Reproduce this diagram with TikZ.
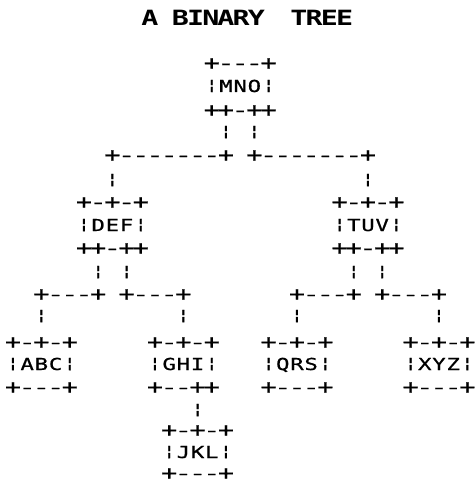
\documentclass[tikz,border=0pt]{standalone}
\usepackage{graphicx}
\usepackage{fontspec}
\newfontfamily\dm[FakeStretch=1.35,FakeBold=0.8]{DejaVu Sans Mono}
\newfontfamily\tf[FakeStretch=1.35]{DejaVu Sans Mono Bold}
\newlength\cw
\setlength\cw{14.2pt}
\makeatletter
\def\gr#1{\gr@a#1\gr@end}
\def\gr@end{\gr@end}
\def\gr@a#1{\ifx#1\gr@end\else\makebox[\cw][c]{\ifx#1.\else\ifx#1¦\raisebox{2.2pt}{\scalebox{1}[0.85]{¦}}\else\ifx#1+\raisebox{-0.6pt}{\scalebox{1.2}{+}}\else\ifx#1-\scalebox{1.3}[1]{-}\else#1\fi\fi\fi\fi}\expandafter\gr@a\fi}
\makeatother
\newcommand\asc[4]{\node[asc] (#3) at ({13+14.2*#1-7.1},{#2+6}) {\gr{#4}};}
\tikzset{
  asc/.style={inner sep=0pt, outer sep=0pt, anchor=base west, text=black,
    font=\dm\fontsize{16.5}{16.5}\selectfont},
  ttl/.style={inner sep=0pt, outer sep=0pt, anchor=base west, text=black,
    font=\tf\fontsize{21}{21}\selectfont}
}
\begin{document}
\begin{tikzpicture}[x=1pt,y=-1pt]
\useasboundingbox[fill=white] (0,0) rectangle (475,484);
\node[ttl] (title) at (142.4,25.5) {\setlength\cw{15.2pt}\gr{A.BINARY.}\hspace{12.2pt}\gr{TREE}};
% root
\asc{14}{63}{mnoT}{+---+}
\asc{14}{86}{mnoM}{¦MNO¦}
\asc{14}{110}{mnoB}{++-++}
\asc{15}{132}{mnoS}{¦.¦}
\asc{7}{155}{brA}{+-------+.+-------+}
\asc{7}{180}{defL}{¦}
\asc{25}{180}{tuvL}{¦}
% level 2
\asc{5}{202}{defT}{+-+-+}
\asc{23}{202}{tuvT}{+-+-+}
\asc{5}{225}{defM}{¦DEF¦}
\asc{23}{225}{tuvM}{¦TUV¦}
\asc{5}{248}{defB}{++-++}
\asc{23}{248}{tuvB}{++-++}
\asc{6}{272}{defS}{¦.¦}
\asc{24}{272}{tuvS}{¦.¦}
\asc{2}{294}{brB}{+---+.+---+}
\asc{20}{294}{brC}{+---+.+---+}
\asc{2}{316}{abcL}{¦}
\asc{12}{316}{ghiL}{¦}
\asc{20}{316}{qrsL}{¦}
\asc{30}{316}{xyzL}{¦}
% level 3
\asc{0}{342}{abcT}{+-+-+}
\asc{10}{342}{ghiT}{+-+-+}
\asc{18}{342}{qrsT}{+-+-+}
\asc{28}{342}{xyzT}{+-+-+}
\asc{0}{364}{abcM}{¦ABC¦}
\asc{10}{364}{ghiM}{¦GHI¦}
\asc{18}{364}{qrsM}{¦QRS¦}
\asc{28}{364}{xyzM}{¦XYZ¦}
\asc{0}{387}{abcB}{+---+}
\asc{10}{387}{ghiB}{+--++}
\asc{18}{387}{qrsB}{+---+}
\asc{28}{387}{xyzB}{+---+}
\asc{13}{410}{jklL}{¦}
% level 4
\asc{11}{430}{jklT}{+-+-+}
\asc{11}{452}{jklM}{¦JKL¦}
\asc{11}{473}{jklB}{+---+}
\end{tikzpicture}
\end{document}
